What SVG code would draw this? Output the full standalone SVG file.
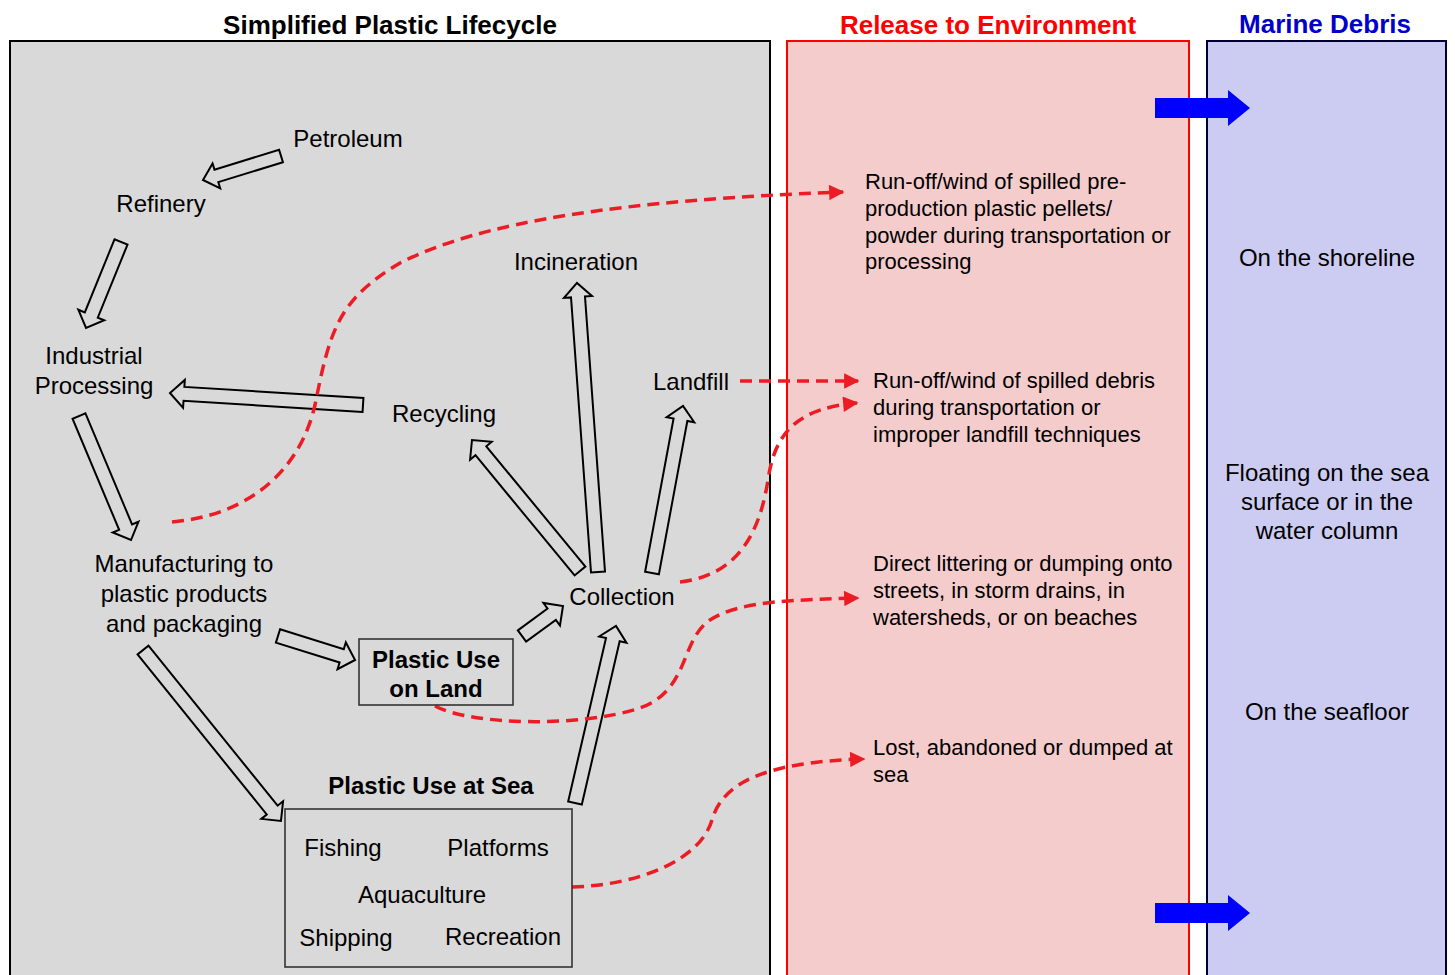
<svg xmlns="http://www.w3.org/2000/svg" width="1455" height="975" viewBox="0 0 1455 975">
<defs>
<style>
.lbl{font-family:"Liberation Sans",Arial,sans-serif;font-size:24px;fill:#000;text-anchor:middle}
.bold{font-weight:bold}
.pk{font-family:"Liberation Sans",Arial,sans-serif;font-size:22px;fill:#000}
.ttl{font-family:"Liberation Sans",Arial,sans-serif;font-size:26px;font-weight:bold;text-anchor:middle}
.ha{fill:#d9d9d9;stroke:#000;stroke-width:2;stroke-linejoin:miter}
.dash{fill:none;stroke:#ec1c24;stroke-width:3.5;stroke-dasharray:12 7}
.box{fill:none;stroke:#333;stroke-width:1.6}
</style>
<marker id="rh" viewBox="0 0 10 10" refX="9" refY="5" markerWidth="5" markerHeight="4.4" orient="auto" markerUnits="strokeWidth">
<path d="M0,0 L10,5 L0,10 z" fill="#ec1c24"/>
</marker>
</defs>
<rect width="1455" height="975" fill="#fff"/>
<g id="panels">
<rect x="10" y="41" width="760" height="960" fill="#d9d9d9" stroke="#000" stroke-width="2"/>
<rect x="787" y="41" width="402" height="960" fill="#f4cccc" stroke="#ff0000" stroke-width="2"/>
<rect x="1207" y="41" width="239" height="960" fill="#ccccf2" stroke="#000033" stroke-width="2"/>
<text class="ttl" x="390" y="34" fill="#000">Simplified Plastic Lifecycle</text>
<text class="ttl" x="988" y="34" fill="#ff0000">Release to Environment</text>
<text class="ttl" x="1325" y="33" fill="#0000cc">Marine Debris</text>
</g>
<g id="connectors">
<polygon class="ha" transform="translate(281,156) rotate(162.9)" points="0,-6.5 67.6,-6.5 67.6,-13 81.6,0 67.6,13 67.6,6.5 0,6.5"/>
<polygon class="ha" transform="translate(121,242) rotate(112.15)" points="0,-7 78.8,-7 78.8,-14 92.8,0 78.8,14 78.8,7 0,7"/>
<polygon class="ha" transform="translate(363,405) rotate(183.56)" points="0,-7 179.4,-7 179.4,-14 193.4,0 179.4,14 179.4,7 0,7"/>
<polygon class="ha" transform="translate(79,416) rotate(67.25)" points="0,-7 120.5,-7 120.5,-14 134.5,0 120.5,14 120.5,7 0,7"/>
<polygon class="ha" transform="translate(278,636) rotate(17.3)" points="0,-7 66.7,-7 66.7,-14 80.7,0 66.7,14 66.7,7 0,7"/>
<polygon class="ha" transform="translate(143,650) rotate(51.1)" points="0,-7 205.7,-7 205.7,-14 219.7,0 205.7,14 205.7,7 0,7"/>
<polygon class="ha" transform="translate(522,636) rotate(-36.2)" points="0,-7 36.8,-7 36.8,-14 50.8,0 36.8,14 36.8,7 0,7"/>
<polygon class="ha" transform="translate(580,571) rotate(-129.5)" points="0,-7 155.8,-7 155.8,-14 169.8,0 155.8,14 155.8,7 0,7"/>
<polygon class="ha" transform="translate(598,572) rotate(-94.16)" points="0,-7 275.8,-7 275.8,-14 289.8,0 275.8,14 275.8,7 0,7"/>
<polygon class="ha" transform="translate(652,573) rotate(-79.48)" points="0,-7 155.9,-7 155.9,-14 169.9,0 155.9,14 155.9,7 0,7"/>
<polygon class="ha" transform="translate(575,803) rotate(-76.96)" points="0,-7 167.7,-7 167.7,-14 181.7,0 167.7,14 167.7,7 0,7"/>
<path class="dash" marker-end="url(#rh)" d="M172,522 C250,515 300,470 315,405 C330,330 338,300 400,263 C480,222 620,200 843,192"/>
<path class="dash" marker-end="url(#rh)" d="M740,381 L858,381"/>
<path class="dash" marker-end="url(#rh)" d="M680,582 C740,575 760,530 768,480 C775,430 800,408 857,403"/>
<path class="dash" marker-end="url(#rh)" d="M435,706 C470,725 580,728 640,708 C690,690 680,640 710,620 C740,600 800,600 858,598"/>
<path class="dash" marker-end="url(#rh)" d="M572,887 C640,885 700,860 712,820 C722,785 760,762 864,759"/>
<polygon fill="#0000ff" points="1155,98 1228,98 1228,90 1250,108 1228,126 1228,118 1155,118"/>
<polygon fill="#0000ff" points="1155,903 1228,903 1228,895 1250,913 1228,931 1228,923 1155,923"/>
</g>
<g id="petroleum"><text class="lbl" x="348" y="147">Petroleum</text></g>
<g id="refinery"><text class="lbl" x="161" y="212">Refinery</text></g>
<g id="industrial"><text class="lbl" x="94" y="364">Industrial</text><text class="lbl" x="94" y="394">Processing</text></g>
<g id="manufacturing"><text class="lbl" x="184" y="572">Manufacturing to</text><text class="lbl" x="184" y="602">plastic products</text><text class="lbl" x="184" y="632">and packaging</text></g>
<g id="incineration"><text class="lbl" x="576" y="270">Incineration</text></g>
<g id="landfill"><text class="lbl" x="691" y="390">Landfill</text></g>
<g id="recycling"><text class="lbl" x="444" y="422">Recycling</text></g>
<g id="collection"><text class="lbl" x="622" y="605">Collection</text></g>
<g id="use-land"><rect class="box" x="359" y="639" width="154" height="66"/><text class="lbl bold" x="436" y="668">Plastic Use</text><text class="lbl bold" x="436" y="697">on Land</text></g>
<g id="use-sea"><text class="lbl bold" x="431" y="794">Plastic Use at Sea</text><rect class="box" x="285" y="809" width="287" height="158"/>
<text class="lbl" x="343" y="856">Fishing</text><text class="lbl" x="498" y="856">Platforms</text><text class="lbl" x="422" y="903">Aquaculture</text><text class="lbl" x="346" y="946">Shipping</text><text class="lbl" x="503" y="945">Recreation</text></g>
<g id="release-pellets"><text class="pk" x="865" y="189">Run-off/wind of spilled pre-</text><text class="pk" x="865" y="216">production plastic pellets/</text><text class="pk" x="865" y="243">powder during transportation or</text><text class="pk" x="865" y="269">processing</text></g>
<g id="release-debris"><text class="pk" x="873" y="388">Run-off/wind of spilled debris</text><text class="pk" x="873" y="415">during transportation or</text><text class="pk" x="873" y="442">improper landfill techniques</text></g>
<g id="release-littering"><text class="pk" x="873" y="571">Direct littering or dumping onto</text><text class="pk" x="873" y="598">streets, in storm drains, in</text><text class="pk" x="873" y="625">watersheds, or on beaches</text></g>
<g id="release-sea"><text class="pk" x="873" y="755">Lost, abandoned or dumped at</text><text class="pk" x="873" y="782">sea</text></g>
<g id="shoreline"><text class="lbl" x="1327" y="266">On the shoreline</text></g>
<g id="floating"><text class="lbl" x="1327" y="481">Floating on the sea</text><text class="lbl" x="1327" y="510">surface or in the</text><text class="lbl" x="1327" y="539">water column</text></g>
<g id="seafloor"><text class="lbl" x="1327" y="720">On the seafloor</text></g>
</svg>
